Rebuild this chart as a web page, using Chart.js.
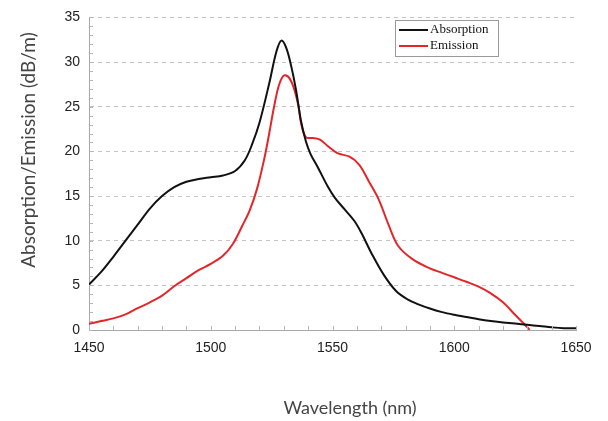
<!DOCTYPE html>
<html>
<head>
<meta charset="utf-8">
<script src="https://cdn.jsdelivr.net/npm/chart.js@4/dist/chart.umd.min.js"></script>
<style>
  html, body { margin: 0; padding: 0; background: #fff; }
  #wrap { width: 608px; height: 421px; position: relative; }
</style>
</head>
<body>
<div id="wrap"><canvas id="spectrumChart"></canvas></div>
<script>
const seriesNames = ["Absorption", "Emission"];
const seriesColors = ["#111111", "#e4262b"];

const absorptionWl = [1450, 1455, 1460, 1465, 1470, 1475, 1480, 1485, 1490, 1495, 1500, 1505, 1510, 1514, 1517, 1520, 1524, 1527, 1529, 1531, 1533, 1535, 1537, 1539, 1541, 1544, 1548, 1551, 1555, 1559, 1562, 1566, 1571, 1576, 1581, 1585, 1590, 1595, 1600, 1605, 1610, 1615, 1620, 1625, 1630, 1635, 1640, 1645, 1650];
const absorption = [5.1, 6.5, 8.2, 10.0, 11.8, 13.6, 15.0, 16.0, 16.6, 16.9, 17.1, 17.3, 17.8, 19.0, 20.8, 23.2, 27.6, 31.2, 32.4, 31.6, 29.6, 26.9, 23.5, 21.2, 19.7, 18.2, 16.1, 14.8, 13.5, 12.2, 10.8, 8.6, 6.2, 4.4, 3.4, 2.9, 2.4, 2.0, 1.7, 1.45, 1.2, 1.0, 0.85, 0.72, 0.58, 0.45, 0.3, 0.2, 0.2];

const emissionWl = [1450, 1455, 1460, 1465, 1470, 1475, 1480, 1485, 1490, 1495, 1500, 1505, 1509, 1513, 1516, 1519, 1522, 1524, 1526, 1528, 1530, 1532, 1534, 1536, 1537, 1539, 1542, 1545, 1548, 1552, 1557, 1561, 1565, 1569, 1573, 1577, 1583, 1590, 1595, 1600, 1605, 1610, 1615, 1620, 1625, 1630, 1631];
const emission = [0.7, 1.0, 1.3, 1.75, 2.45, 3.1, 3.85, 4.9, 5.8, 6.7, 7.4, 8.3, 9.6, 11.7, 13.4, 15.8, 19.2, 22.0, 25.0, 27.4, 28.5, 28.3, 27.2, 25.1, 23.3, 21.6, 21.5, 21.3, 20.6, 19.8, 19.4, 18.5, 16.6, 14.6, 11.8, 9.4, 7.9, 6.9, 6.4, 5.9, 5.4, 4.85, 4.1, 3.1, 1.7, 0.3, 0];

const xTicks = [1450, 1500, 1550, 1600, 1650];
const yTicks = [0, 5, 10, 15, 20, 25, 30, 35];
const xTitle = "Wavelength (nm)";
const yTitle = "Absorption/Emission (dB/m)";

function toPoints(xs, ys) {
    return xs.map((x, i) => ({ x: x, y: ys[i] }));
}

// minor tick marks on both axes, pointing into the plot
const minorTicks = {
    id: "minorTicks",
    afterDraw(chart) {
        const { ctx, chartArea, scales } = chart;
        ctx.save();
        ctx.strokeStyle = "#b5b5b5";
        ctx.lineWidth = 1;
        ctx.beginPath();
        for (let v = 1450; v <= 1650; v += 10) {
            const px = Math.round(scales.x.getPixelForValue(v)) + 0.5;
            ctx.moveTo(px, chartArea.bottom);
            ctx.lineTo(px, chartArea.bottom - 4);
        }
        for (let v = 0; v <= 35; v += 1) {
            const py = Math.round(scales.y.getPixelForValue(v)) + 0.5;
            ctx.moveTo(chartArea.left, py);
            ctx.lineTo(chartArea.left + 4, py);
        }
        ctx.stroke();
        ctx.restore();
    }
};

// axis titles, placed a bit off-centre like the original
const axisTitles = {
    id: "axisTitles",
    afterDraw(chart) {
        const ctx = chart.ctx;
        ctx.save();
        ctx.fillStyle = "#444";
        ctx.textAlign = "center";
        ctx.textBaseline = "middle";
        ctx.font = "18px Lato, 'Open Sans', sans-serif";
        ctx.fillText(xTitle, 350, 408);
        ctx.translate(29, 150);
        ctx.rotate(-Math.PI / 2);
        ctx.font = "19px Lato, 'Open Sans', sans-serif";
        ctx.fillText(yTitle, 0, 0);
        ctx.restore();
    }
};

// boxed legend in the upper right
const boxLegend = {
    id: "boxLegend",
    afterDraw(chart) {
        const ctx = chart.ctx;
        const bx = 395, by = 20, bw = 103, bh = 36;
        ctx.save();
        ctx.fillStyle = "#fff";
        ctx.fillRect(bx, by, bw, bh);
        ctx.strokeStyle = "#9a9a9a";
        ctx.lineWidth = 1;
        ctx.strokeRect(bx + 0.5, by + 0.5, bw, bh);
        ctx.font = "13px 'Liberation Serif', 'Times New Roman', serif";
        ctx.textBaseline = "middle";
        seriesNames.forEach((name, i) => {
            const y = by + 10 + i * 16;
            ctx.strokeStyle = seriesColors[i];
            ctx.lineWidth = 2;
            ctx.beginPath();
            ctx.moveTo(399, y);
            ctx.lineTo(428, y);
            ctx.stroke();
            ctx.fillStyle = "#111";
            ctx.fillText(name, 430, y);
        });
        ctx.restore();
    }
};

const canvas = document.getElementById("spectrumChart");

new Chart(canvas, {
    type: "line",
    data: {
        datasets: [
            {
                label: seriesNames[0],
                data: toPoints(absorptionWl, absorption),
                borderColor: seriesColors[0],
                borderWidth: 2,
                pointRadius: 0,
                tension: 0.35,
                fill: false,
            },
            {
                label: seriesNames[1],
                data: toPoints(emissionWl, emission),
                borderColor: seriesColors[1],
                borderWidth: 2,
                pointRadius: 0,
                tension: 0.35,
                fill: false,
            }
        ]
    },
    options: {
        responsive: true,
        maintainAspectRatio: false,
        animation: false,
        layout: { padding: { left: 0, top: 14, right: 32, bottom: 0 } },
        plugins: {
            legend: { display: false },
            tooltip: { enabled: false },
        },
        scales: {
            x: {
                type: "linear",
                min: 1450,
                max: 1650,
                afterBuildTicks: (scale) => { scale.ticks = xTicks.map(v => ({ value: v })); },
                afterFit: (scale) => { scale.height = 91; },
                grid: { display: false, drawTicks: false },
                border: { color: "#a8a8a8" },
                ticks: {
                    padding: 10,
                    color: "#222",
                    font: { family: "'Liberation Sans', Arial, sans-serif", size: 14 },
                    maxRotation: 0,
                    callback: (v) => String(v),
                },
                title: { display: false },
            },
            y: {
                min: 0,
                max: 35,
                afterBuildTicks: (scale) => { scale.ticks = yTicks.map(v => ({ value: v })); },
                afterFit: (scale) => { scale.width = 89; },
                grid: {
                    color: (c) => c.tick && c.tick.value === 0 ? "rgba(0,0,0,0)" : "#c4c4c4",
                    drawTicks: false,
                },
                border: { color: "#a8a8a8", dash: [4, 4] },
                ticks: {
                    padding: 9,
                    color: "#222",
                    font: { family: "'Liberation Sans', Arial, sans-serif", size: 14 },
                },
                title: { display: false },
            },
        },
    },
    plugins: [minorTicks, axisTitles, boxLegend],
});
</script>
</body>
</html>
